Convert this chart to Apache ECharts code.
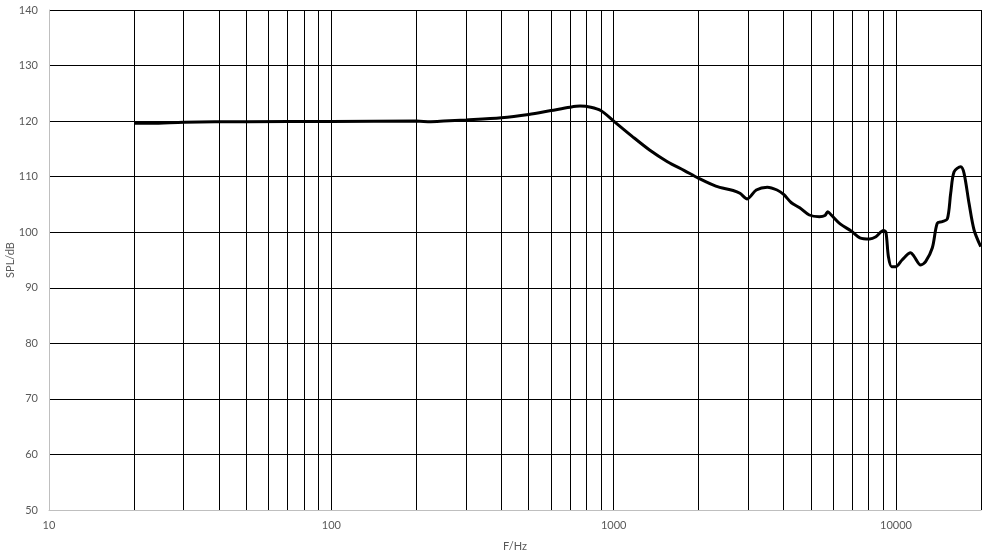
<!DOCTYPE html>
<html><head><meta charset="utf-8">
<script src="https://cdn.jsdelivr.net/npm/echarts@6/dist/echarts.min.js"></script>
<style>html,body{margin:0;padding:0;background:#fff}#c{width:993px;height:553px}</style>
</head><body><div id="c"></div>
<script>
const freq = [20,23,30,50,100,200,225,250,300,400,500,600,700,760,830,900,1000,1160,1340,1550,1780,2000,2300,2650,2800,2970,3200,3500,3790,4000,4260,4560,4930,5350,5600,5730,5900,6340,6950,7450,8060,8490,9030,9210,9400,9650,9970,10500,11270,11570,12230,12730,13450,14000,14580,15200,15620,16060,16950,17420,18140,18900,19960];
const spl  = [119.6,119.6,119.8,119.9,119.95,120.0,119.9,120.0,120.2,120.6,121.2,121.9,122.5,122.7,122.5,121.9,120.0,117.3,114.8,112.7,111.1,109.7,108.3,107.5,107.0,106.0,107.6,108.1,107.6,106.8,105.3,104.4,103.1,102.8,103.0,103.7,103.1,101.5,100.2,99.0,98.8,99.2,100.3,100.0,95.6,93.8,93.8,95.0,96.3,95.7,94.1,94.7,97.2,101.6,101.9,102.4,107.0,110.9,111.8,110.6,105.2,100.4,97.4];
const gridFreqs = [20,30,40,50,60,70,80,90,100,200,300,400,500,600,700,800,900,1000,2000,3000,4000,5000,6000,7000,8000,9000,10000,20000];
const xTickLabels = [10,100,1000,10000];

const font = 'Lato, "Open Sans", sans-serif';
const chart = echarts.init(document.getElementById('c'));
chart.setOption({
  animation:false,
  grid:{left:49,right:12,top:10,bottom:43,containLabel:false,outerBoundsMode:'none'},
  xAxis:{type:'log',logBase:10,min:10,max:20000,
    name:'F/Hz',nameLocation:'middle',nameGap:31,nameMoveOverlap:false,
    nameTextStyle:{color:'#595959',fontSize:11,fontFamily:font},
    axisLine:{lineStyle:{color:'#bfbfbf',width:1}},
    axisTick:{show:false},splitLine:{show:false},minorTick:{show:false},
    axisLabel:{color:'#595959',fontSize:11,fontFamily:font,margin:10,
      formatter:v=>{const r=Math.round(v);return xTickLabels.includes(r)?String(r):'';}}
  },
  yAxis:{type:'value',min:50,max:140,interval:10,
    name:'SPL/dB',nameLocation:'middle',nameGap:33,nameRotate:90,nameMoveOverlap:false,
    nameTextStyle:{color:'#595959',fontSize:11,fontFamily:font},
    axisLine:{show:true,lineStyle:{color:'#bfbfbf',width:1}},
    axisTick:{show:false},
    splitLine:{show:true,showMinLine:false,lineStyle:{color:'#000',width:1}},
    axisLabel:{color:'#595959',fontSize:11,fontFamily:font,margin:11}
  },
  series:[
    {type:'line',data:[[20,50]],showSymbol:false,lineStyle:{width:0},z:1,silent:true,
     markLine:{silent:true,symbol:['none','none'],label:{show:false},
       lineStyle:{color:'#000',width:1,type:'solid'},
       data:gridFreqs.map(f=>({xAxis:f}))}},
    {type:'line',data:freq.map((f,i)=>[f,spl[i]]),showSymbol:false,smooth:0.3,z:5,
     lineStyle:{color:'#000',width:3}}
  ]
});
</script></body></html>
